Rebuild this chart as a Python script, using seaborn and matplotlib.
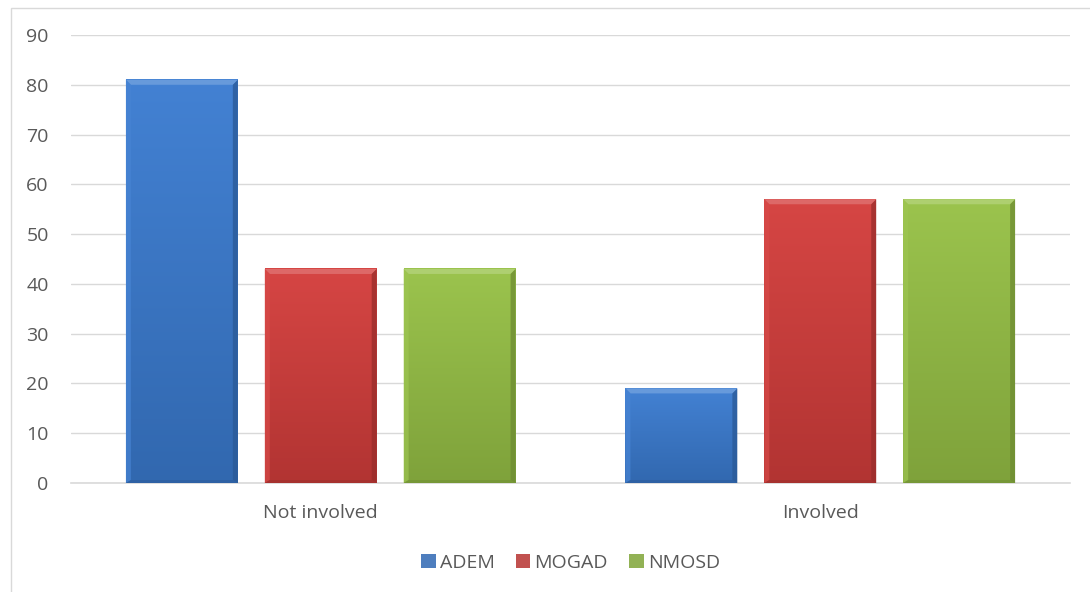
import numpy as np
import pandas as pd
import matplotlib
matplotlib.use("Agg")
import matplotlib.pyplot as plt
import seaborn as sns
from matplotlib.patches import Polygon, Rectangle
from matplotlib.colors import to_rgb

categories = ["Not involved", "Involved"]
groups = ["ADEM", "MOGAD", "NMOSD"]
adem = [81, 19]
mogad = [43, 57]
nmosd = [43, 57]
yticks = [0, 10, 20, 30, 40, 50, 60, 70, 80, 90]

palette = {"ADEM": "#3B7CD1", "MOGAD": "#D43E3C", "NMOSD": "#97C146"}

df = pd.DataFrame({
    "category": categories * 3,
    "group": ["ADEM"] * 2 + ["MOGAD"] * 2 + ["NMOSD"] * 2,
    "value": adem + mogad + nmosd,
})

sns.set_theme(style="white")
plt.rcParams["font.family"] = ["Open Sans", "DejaVu Sans"]

fig = plt.figure(figsize=(10.9, 5.92), dpi=100)
ax = fig.add_axes([0.0651, 0.1841, 0.9166, 0.7568])

sns.barplot(data=df, x="category", y="value", hue="group", order=categories,
            hue_order=groups, palette=palette, width=0.834, gap=0.194,
            ax=ax, legend=True, zorder=3, linewidth=0)

ax.set_ylim(0, 90)
ax.set_xlim(-0.5, 1.5)
ax.set_yticks(yticks)
ax.yaxis.grid(True, color="#D9D9D9", linewidth=1.0, zorder=0)
ax.set_axisbelow(True)
for s in ["top", "right", "left"]:
    ax.spines[s].set_visible(False)
ax.spines["bottom"].set_color("#D9D9D9")
ax.spines["bottom"].set_linewidth(1.2)
ax.tick_params(axis="both", length=0, colors="#595959", labelsize=14)
ax.tick_params(axis="y", pad=16)
ax.tick_params(axis="x", pad=15)
ax.set_xlabel("")
ax.set_ylabel("")

fig.canvas.draw()
to_px = ax.transData
to_data = ax.transData.inverted()


def shade(c, f):
    r = np.array(to_rgb(c))
    if f >= 0:
        return tuple(r + (1 - r) * f)
    return tuple(r * (1 + f))


bevel = 5  # pixels
for bar, g in zip(ax.patches[:6], [g for g in groups for _ in categories]):
    base = palette[g]
    x0, y0 = bar.get_x(), bar.get_y()
    w, h = bar.get_width(), bar.get_height()
    bar.set_alpha(0)
    # vertical gradient body
    grad = np.linspace(0, 1, 64)[:, None]
    top_c = np.array(shade(base, 0.04))
    bot_c = np.array(shade(base, -0.16))
    img = top_c[None, None, :] * (1 - grad[..., None]) + bot_c[None, None, :] * grad[..., None]
    ax.imshow(img, extent=[x0, x0 + w, y0, y0 + h], origin="upper",
              aspect="auto", zorder=3, interpolation="bicubic")
    # bevel edges in pixel space
    (px0, py0) = to_px.transform((x0, y0))
    (px1, py1) = to_px.transform((x0 + w, y0 + h))
    b = bevel
    outer = [(px0, py1), (px1, py1), (px1, py0), (px0, py0)]
    inner = [(px0 + b, py1 - b), (px1 - b, py1 - b), (px1 - b, py0 + 3), (px0 + b, py0 + 3)]
    faces = [
        ([outer[0], outer[1], inner[1], inner[0]], shade(base, 0.25), 0.9),   # top
        ([outer[0], inner[0], inner[3], outer[3]], shade(base, 0.06), 0.7),   # left
        ([outer[1], outer[2], inner[2], inner[1]], shade(base, -0.28), 0.75),  # right
        ([outer[3], inner[3], inner[2], outer[2]], shade(base, -0.25), 0.6),  # bottom
    ]
    for pts, col, a in faces:
        dpts = to_data.transform(pts)
        ax.add_patch(Polygon(dpts, closed=True, facecolor=col, edgecolor="none",
                             zorder=4, alpha=a))

ax.set_xlim(-0.5, 1.5)
ax.set_ylim(0, 90)

handles, labels = ax.get_legend_handles_labels()
ax.legend(handles, labels, loc="center", bbox_to_anchor=(0.5, -0.178),
          bbox_transform=ax.transAxes, ncol=3, frameon=False, fontsize=14,
          handlelength=0.75, handleheight=0.75, handletextpad=0.2,
          columnspacing=1.1, labelcolor="#595959")

# outer chart frame
fig.add_artist(Rectangle((10.5 / 1090, -0.1), 1.2, 1 - 8 / 592 + 0.1,
                         transform=fig.transFigure, fill=False,
                         edgecolor="#D9D9D9", linewidth=1.0))

fig.savefig("out.png", dpi=100)
